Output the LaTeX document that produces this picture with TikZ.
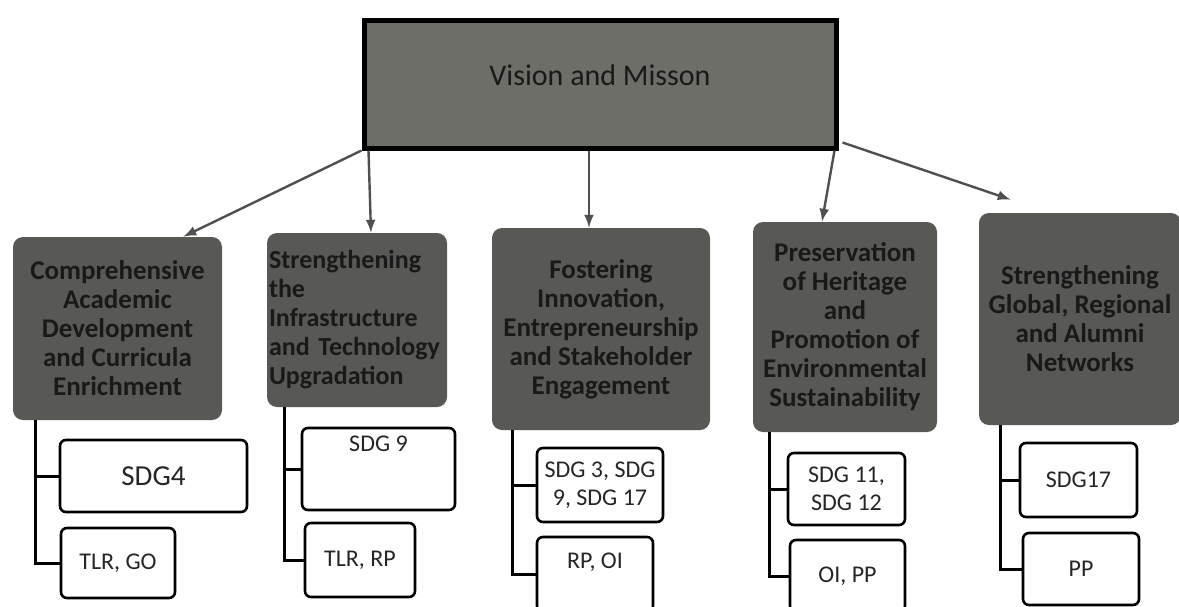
\documentclass[tikz,border=0pt]{standalone}
\usepackage{fontspec}
\setmainfont{Carlito}
\usepackage{tikz}
\usetikzlibrary{arrows}

\definecolor{topgray}{RGB}{110,110,104}
\definecolor{boxgray}{RGB}{88,88,84}
\definecolor{arrgray}{RGB}{80,80,80}

\tikzset{
  topbox/.style={draw=black, line width=2.5pt, fill=topgray, font=\fontsize{15}{17}\selectfont, inner sep=0pt, text=black!90},
  goalbox/.style={fill=boxgray, rounded corners=5pt, font=\fontsize{13.5}{14.5}\selectfont\bfseries, align=center, inner sep=1pt, text=black!90},
  sdgbox/.style={draw=black, line width=1.3pt, rounded corners=3pt, fill=white, font=\fontsize{12}{14}\selectfont, align=center, inner sep=2pt, text=black!85},
  arr/.style={draw=arrgray, line width=1.2pt, ->, >=latex},
  trunk/.style={draw=black, line width=1.5pt, line join=miter}
}

\begin{document}
\begin{tikzpicture}[x=0.5pt, y=-0.5pt]
\useasboundingbox (0,0) rectangle (1179,606);
\clip (0,0) rectangle (1179,606);

% top
\node[topbox, minimum width=236pt, minimum height=64pt, text depth=9pt] (vm) at (600,84) {Vision and Misson};

% goal boxes
\node[goalbox, minimum width=104.5pt, minimum height=91.5pt] (b1) at (117.5,328.5)
  {Comprehensive\\Academic\\Development\\and Curricula\\Enrichment};
\node[goalbox, minimum width=90pt, minimum height=87pt, align=left, text width=88pt, font=\fontsize{13}{14.5}\selectfont\bfseries] (b2) at (357,320)
  {Strengthening\\the\\Infrastructure\\\mbox{and Technology}\\Upgradation};
\node[goalbox, minimum width=109pt, minimum height=101pt] (b3) at (601,329)
  {Fostering\\Innovation,\\Entrepreneurship\\and Stakeholder\\Engagement};
\node[goalbox, minimum width=92pt, minimum height=105pt] (b4) at (845,327)
  {Preservation\\of Heritage\\and\\Promotion of\\Environmental\\Sustainability};
\node[goalbox, minimum width=101pt, minimum height=106pt] (b5) at (1080,319)
  {Strengthening\\Global, Regional\\and Alumni\\Networks};

% arrows
\draw[arr] (vm.south west) -- ([xshift=-19.5pt]b1.north east);
\draw[arr] ([xshift=3.5pt]vm.south west) -- ([xshift=7pt]b2.north);
\draw[arr] ([xshift=-5.5pt]vm.south) -- ([xshift=-6pt]b3.north);
\draw[arr] ([xshift=-2pt]vm.south east) -- ([xshift=-11.5pt]b4.north);
\draw[arr] ([xshift=2pt,yshift=4pt]vm.south east) -- ([xshift=16pt,yshift=6.5pt]b5.north west);

% sdg boxes
\node[sdgbox, minimum width=93.5pt, minimum height=36pt, font=\fontsize{14.5}{16}\selectfont] (s1a) at (153.5,476) {SDG4};
\node[sdgbox, minimum width=57pt, minimum height=35pt] (s1b) at (118,563) {TLR, GO};
\node[sdgbox, minimum width=76.5pt, minimum height=41pt, text depth=25pt] (s2a) at (378.5,469) {SDG 9};
\node[sdgbox, minimum width=55pt, minimum height=37pt] (s2b) at (360,560) {TLR, RP};
\node[sdgbox, minimum width=63pt, minimum height=37pt] (s3a) at (600,485) {SDG 3, SDG\\9, SDG 17};
\node[sdgbox, minimum width=58pt, minimum height=37.5pt, text depth=14pt] (s3b) at (595,574.5) {RP, OI};
\node[sdgbox, minimum width=58.5pt, minimum height=36pt] (s4a) at (846.5,489) {SDG 11,\\SDG 12};
\node[sdgbox, minimum width=57.5pt, minimum height=36pt] (s4b) at (847.5,576) {OI, PP};
\node[sdgbox, minimum width=58.5pt, minimum height=37pt] (s5a) at (1078.5,480) {SDG17};
\node[sdgbox, minimum width=58pt, minimum height=36pt] (s5b) at (1081,569) {PP};

% trunks
\foreach \b/\s in {1/11.5, 2/9, 3/10.5, 4/8.5, 5/11} {
  \draw[trunk] ([xshift=\s pt]b\b.south west) |- (s\b b.west);
  \draw[trunk] ([xshift=\s pt]b\b.south west) |- (s\b a.west);
}
\end{tikzpicture}
\end{document}
